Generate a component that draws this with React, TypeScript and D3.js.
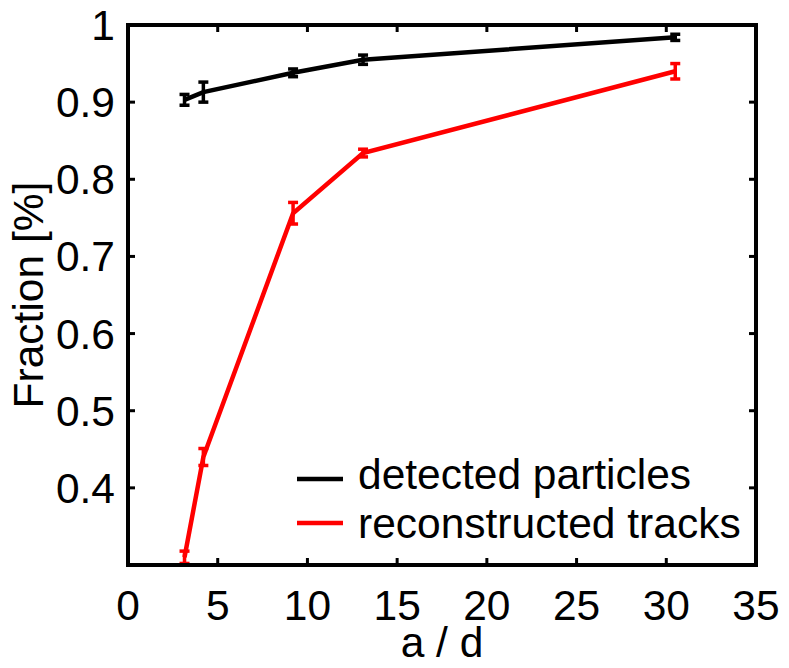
import React from "react";
import * as d3 from "d3";

const aOverD = [3.15, 4.2, 9.2, 13.1, 30.5];
const detected = [0.903, 0.913, 0.938, 0.955, 0.984];
const detectedErr = [0.007, 0.013, 0.005, 0.006, 0.004];
const reconstructed = [0.31, 0.44, 0.756, 0.834, 0.94];
const reconstructedErr = [0.008, 0.011, 0.014, 0.005, 0.01];
const xTicks = [0, 5, 10, 15, 20, 25, 30, 35];
const yTicks = [0.4, 0.5, 0.6, 0.7, 0.8, 0.9, 1];
const legendLabels = ["detected particles", "reconstructed tracks"];

const W = 789, H = 668;
const L = 128, R = 756, T = 25, B = 565;
const FONT = "'Liberation Sans', Arial, Helvetica, sans-serif";
const FS = 42.5;

export default function App() {
  const x = d3.scaleLinear().domain([0, 35]).range([L, R]);
  const y = d3.scaleLinear().domain([0.3, 1]).range([B, T]);
  const line = d3.line<[number, number]>().x(d => x(d[0])).y(d => y(d[1]));
  const series = [
    { vals: detected, err: detectedErr, color: "#000000" },
    { vals: reconstructed, err: reconstructedErr, color: "#ff0000" },
  ];
  const fmtY = (v: number) => (v === 1 ? "1" : d3.format(".1f")(v));
  return (
    <svg width={W} height={H} style={{ position: "fixed", left: 0, top: 0, background: "#fff" }} fontFamily={FONT}>
      <rect x={0} y={0} width={W} height={H} fill="#fff" />
      <defs>
        <clipPath id="plotclip">
          <rect x={L} y={T} width={R - L} height={B - T} />
        </clipPath>
      </defs>
      {xTicks.map(t => (
        <g key={"xt" + t}>
          <line x1={x(t)} x2={x(t)} y1={B} y2={B - 7} stroke="#000" strokeWidth={3} />
          <line x1={x(t)} x2={x(t)} y1={T} y2={T + 7} stroke="#000" strokeWidth={3} />
          <text x={x(t)} y={B + 55} fontSize={FS} textAnchor="middle">{t}</text>
        </g>
      ))}
      {yTicks.map(t => (
        <g key={"yt" + t}>
          <line x1={L} x2={L + 7} y1={y(t)} y2={y(t)} stroke="#000" strokeWidth={3} />
          <line x1={R} x2={R - 7} y1={y(t)} y2={y(t)} stroke="#000" strokeWidth={3} />
          <text x={L - 13} y={y(t) + 15} fontSize={FS} textAnchor="end">{fmtY(t)}</text>
        </g>
      ))}
      <g clipPath="url(#plotclip)">
        {series.map((s, i) => (
          <g key={"s" + i}>
            <path d={line(aOverD.map((a, j) => [a, s.vals[j]] as [number, number])) || ""} fill="none" stroke={s.color} strokeWidth={4.5} />
            {aOverD.map((a, j) => (
              <g key={j} stroke={s.color} strokeWidth={3.5}>
                <line x1={x(a)} x2={x(a)} y1={y(s.vals[j] - s.err[j])} y2={y(s.vals[j] + s.err[j])} />
                <line x1={x(a) - 5} x2={x(a) + 5} y1={y(s.vals[j] - s.err[j])} y2={y(s.vals[j] - s.err[j])} />
                <line x1={x(a) - 5} x2={x(a) + 5} y1={y(s.vals[j] + s.err[j])} y2={y(s.vals[j] + s.err[j])} />
              </g>
            ))}
          </g>
        ))}
      </g>
      <rect x={L} y={T} width={R - L} height={B - T} fill="none" stroke="#000" strokeWidth={4} />
      {legendLabels.map((lab, i) => (
        <g key={lab}>
          <line x1={297} x2={343} y1={479 + i * 44} y2={479 + i * 44} stroke={series[i].color} strokeWidth={4.5} />
          <text x={358} y={489 + i * 49} fontSize={FS}>{lab}</text>
        </g>
      ))}
      <text x={442} y={657} fontSize={FS} textAnchor="middle">a / d</text>
      <text transform={`translate(43,295) rotate(-90)`} fontSize={FS} textAnchor="middle">Fraction [%]</text>
    </svg>
  );
}
